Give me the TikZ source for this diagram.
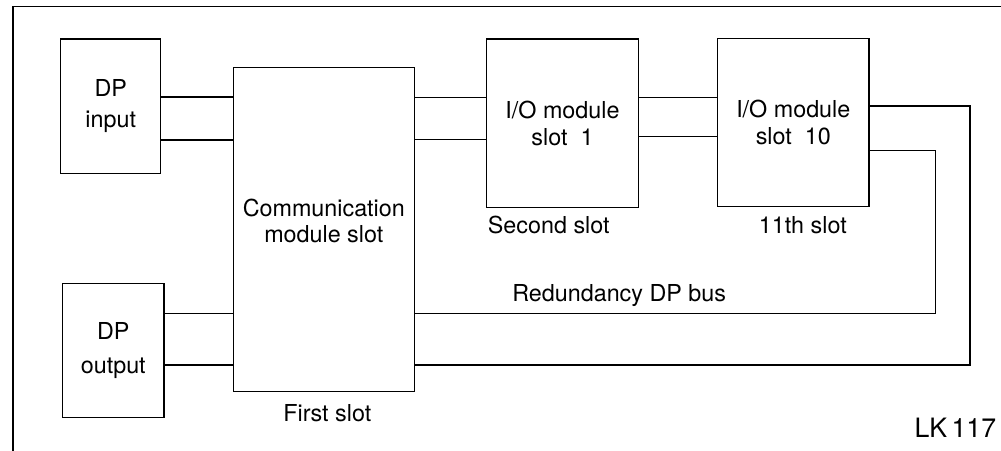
\documentclass[tikz,border=0pt]{standalone}
\usepackage{fontspec}
\setmainfont{TeX Gyre Heros}
\usetikzlibrary{positioning}

\tikzset{
  slotbox/.style={draw, align=center, inner sep=0pt, font=\fontsize{14}{16}\selectfont},
  slotlabel/.style={inner sep=0pt, font=\fontsize{14}{16}\selectfont}
}

\begin{document}
\begin{tikzpicture}[x=0.6pt, y=-0.6pt, line width=0.7pt]
  \useasboundingbox (0,0) rectangle (1001,451);
  \draw[line width=0.9pt] (13,451) -- (13,6.5) -- (1001,6.5);

  \node[slotbox, minimum width=60pt,    minimum height=80.6pt,  font=\fontsize{14}{19}\selectfont] (DPin)  at (110.8,106.2) {DP\\input};
  \node[slotbox, minimum width=60.8pt,  minimum height=80.6pt,  font=\fontsize{14}{20}\selectfont] (DPout) at (113.3,350.5) {DP\\output};
  \node[slotbox, minimum width=108.6pt, minimum height=194.6pt, text depth=10pt, font=\fontsize{14}{15.6}\selectfont] (Comm) at (323.8,229.5) {Communication\\module slot};
  \node[slotbox, minimum width=91pt,    minimum height=101pt]   (IOa)   at (562.5,123.2) {I/O module\\slot\ \ 1};
  \node[slotbox, minimum width=90.8pt,  minimum height=101pt]   (IOb)   at (793.3,122.5) {I/O module\\slot\ \ 10};

  \node[slotlabel, anchor=base]      (FirstSlot)  at (327.3,421.7) {First slot};
  \node[slotlabel, anchor=base west] (SecondSlot) at (487.3,233.3) {Second slot};
  \node[slotlabel, anchor=base west] (EleventhSlot) at (758.3,233.3) {11th slot};
  \node[slotlabel, anchor=base west] (BusLabel)   at (511.7,301.7) {Redundancy DP bus};
  \node[inner sep=0pt, anchor=base east, font=\fontsize{16}{18}\selectfont] (LK) at (996.7,437.7) {LK\,117};

  % slot to slot connections
  \foreach \y in {97,140}
    \draw (DPin.east |- 0,\y) -- (Comm.west |- 0,\y);
  \foreach \y in {313.3,365}
    \draw (DPout.east |- 0,\y) -- (Comm.west |- 0,\y);
  \foreach \y in {97.3,139.3}
    \draw (Comm.east |- 0,\y) -- (IOa.west |- 0,\y);
  \foreach \y in {97.3,136.3}
    \draw (IOa.east |- 0,\y) -- (IOb.west |- 0,\y);

  % redundancy bus back to the communication slot
  \coordinate (BusIn)  at (935.7,313.3);
  \coordinate (BusOut) at (970,365);
  \draw (IOb.east |- 0,150.7) -| (BusIn)  -- (Comm.east |- BusIn);
  \draw (IOb.east |- 0,106)   -| (BusOut) -- (Comm.east |- BusOut);
\end{tikzpicture}
\end{document}
